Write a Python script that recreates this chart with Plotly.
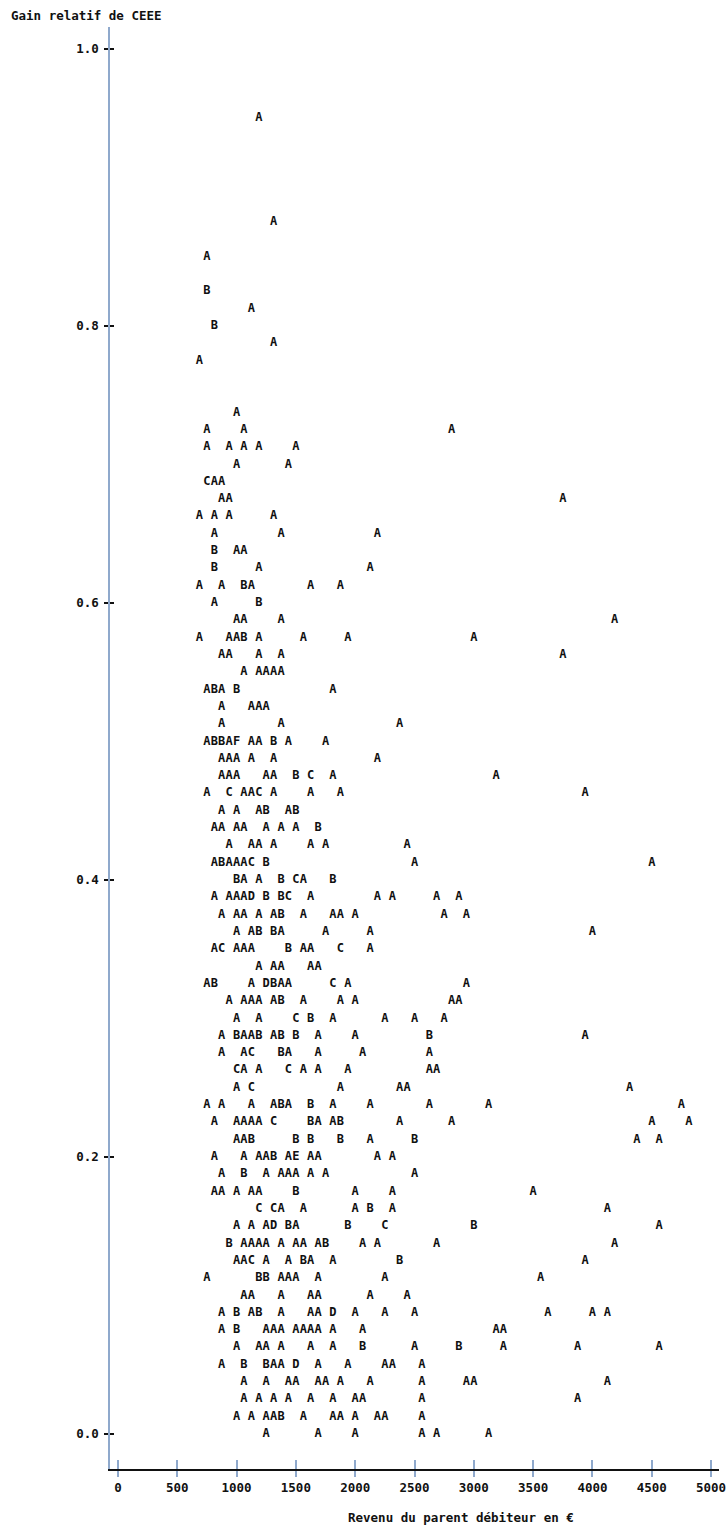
import plotly.graph_objects as go

# ---------------- data ----------------
gain_niveaux = [
    0.95, 0.875, 0.85, 0.825, 0.8125, 0.8, 0.7875, 0.775, 0.7375, 0.725,
    0.7125, 0.7, 0.6875, 0.675, 0.6625, 0.65, 0.6375, 0.625, 0.6125, 0.6,
    0.5875, 0.575, 0.5625, 0.55, 0.5375, 0.525, 0.5125, 0.5, 0.4875, 0.475,
    0.4625, 0.45, 0.4375, 0.425, 0.4125, 0.4, 0.3875, 0.375, 0.3625, 0.35,
    0.3375, 0.325, 0.3125, 0.3, 0.2875, 0.275, 0.2625, 0.25, 0.2375, 0.225,
    0.2125, 0.2, 0.1875, 0.175, 0.1625, 0.15, 0.1375, 0.125, 0.1125, 0.1,
    0.0875, 0.075, 0.0625, 0.05, 0.0375, 0.025, 0.0125, 0.0,
]

revenus_par_niveau = [
    [1187.5],
    [1312.5],
    [750],
    [750],
    [1125],
    [812.5],
    [1312.5],
    [687.5],
    [1000],
    [750, 1062.5, 2812.5],
    [750, 937.5, 1062.5, 1187.5, 1500],
    [1000, 1437.5],
    [750, 812.5, 875],
    [875, 937.5, 3750],
    [687.5, 812.5, 937.5, 1312.5],
    [812.5, 1375, 2187.5],
    [812.5, 1000, 1062.5],
    [812.5, 1187.5, 2125],
    [687.5, 875, 1062.5, 1125, 1625, 1875],
    [812.5, 1187.5],
    [1000, 1062.5, 1375, 4187.5],
    [687.5, 937.5, 1000, 1062.5, 1187.5, 1562.5, 1937.5, 3000],
    [875, 937.5, 1187.5, 1375, 3750],
    [1062.5, 1187.5, 1250, 1312.5, 1375],
    [750, 812.5, 875, 1000, 1812.5],
    [875, 1125, 1187.5, 1250],
    [875, 1375, 2375],
    [750, 812.5, 875, 937.5, 1000, 1125, 1187.5, 1312.5, 1437.5, 1750],
    [875, 937.5, 1000, 1125, 1312.5, 2187.5],
    [875, 937.5, 1000, 1250, 1312.5, 1500, 1625, 1812.5, 3187.5],
    [750, 937.5, 1062.5, 1125, 1187.5, 1312.5, 1625, 1875, 3937.5],
    [875, 1000, 1187.5, 1250, 1437.5, 1500],
    [812.5, 875, 1000, 1062.5, 1250, 1375, 1500, 1687.5],
    [937.5, 1125, 1187.5, 1312.5, 1625, 1750, 2437.5],
    [812.5, 875, 937.5, 1000, 1062.5, 1125, 1250, 2500, 4500],
    [1000, 1062.5, 1187.5, 1375, 1500, 1562.5, 1812.5],
    [812.5, 937.5, 1000, 1062.5, 1125, 1250, 1375, 1437.5, 1625, 2187.5, 2312.5, 2687.5, 2875],
    [875, 1000, 1062.5, 1187.5, 1312.5, 1375, 1562.5, 1812.5, 1875, 2000, 2750, 2937.5],
    [1000, 1125, 1187.5, 1312.5, 1375, 1750, 2125, 4000],
    [812.5, 875, 1000, 1062.5, 1125, 1437.5, 1562.5, 1625, 1875, 2125],
    [1187.5, 1312.5, 1375, 1625, 1687.5],
    [750, 812.5, 1125, 1250, 1312.5, 1375, 1437.5, 1812.5, 1937.5, 2937.5],
    [937.5, 1062.5, 1125, 1187.5, 1312.5, 1375, 1562.5, 1875, 2000, 2812.5, 2875],
    [1000, 1187.5, 1500, 1625, 1812.5, 2250, 2500, 2750],
    [875, 1000, 1062.5, 1125, 1187.5, 1312.5, 1375, 1500, 1687.5, 2000, 2625, 3937.5],
    [875, 1062.5, 1125, 1375, 1437.5, 1687.5, 2062.5, 2625],
    [1000, 1062.5, 1187.5, 1437.5, 1562.5, 1687.5, 1937.5, 2625, 2687.5],
    [1000, 1125, 1875, 2375, 2437.5, 4312.5],
    [750, 875, 1125, 1312.5, 1375, 1437.5, 1625, 1812.5, 2125, 2625, 3125, 4750],
    [812.5, 1000, 1062.5, 1125, 1187.5, 1312.5, 1625, 1687.5, 1812.5, 1875, 2375, 2812.5, 4500, 4812.5],
    [1000, 1062.5, 1125, 1500, 1625, 1875, 2125, 2500, 4375, 4562.5],
    [812.5, 1062.5, 1187.5, 1250, 1312.5, 1437.5, 1500, 1625, 1687.5, 2187.5, 2312.5],
    [875, 1062.5, 1250, 1375, 1437.5, 1500, 1625, 1750, 2500],
    [812.5, 875, 1000, 1125, 1187.5, 1500, 2000, 2312.5, 3500],
    [1187.5, 1312.5, 1375, 1562.5, 2000, 2125, 2312.5, 4125],
    [1000, 1125, 1250, 1312.5, 1437.5, 1500, 1937.5, 2250, 3000, 4562.5],
    [937.5, 1062.5, 1125, 1187.5, 1250, 1375, 1500, 1562.5, 1687.5, 1750, 2062.5, 2187.5, 2687.5, 4187.5],
    [1000, 1062.5, 1125, 1250, 1437.5, 1562.5, 1625, 1812.5, 2375, 3937.5],
    [750, 1187.5, 1250, 1375, 1437.5, 1500, 1687.5, 2250, 3562.5],
    [1062.5, 1125, 1375, 1625, 1687.5, 2125, 2437.5],
    [875, 1000, 1125, 1187.5, 1375, 1625, 1687.5, 1812.5, 2000, 2250, 2500, 3625, 4000, 4125],
    [875, 1000, 1250, 1312.5, 1375, 1500, 1562.5, 1625, 1687.5, 1812.5, 2062.5, 3187.5, 3250],
    [1000, 1187.5, 1250, 1375, 1625, 1812.5, 2062.5, 2500, 2875, 3250, 3875, 4562.5],
    [875, 1062.5, 1250, 1312.5, 1375, 1500, 1687.5, 1937.5, 2250, 2312.5, 2562.5],
    [1062.5, 1250, 1437.5, 1500, 1687.5, 1750, 1875, 2125, 2562.5, 2937.5, 3000, 4125],
    [1062.5, 1187.5, 1312.5, 1437.5, 1625, 1812.5, 2000, 2062.5, 2562.5, 3875],
    [1000, 1125, 1250, 1312.5, 1375, 1562.5, 1812.5, 1875, 2000, 2187.5, 2250, 2562.5],
    [1250, 1687.5, 2000, 2562.5, 2687.5, 3125],
]

lettres_par_niveau = [
    "A", "A", "A", "B", "A", "B", "A", "A", "A", "AAA",
    "AAAAA", "AA", "CAA", "AAA", "AAAA", "AAA", "BAA", "BAA", "AABAAA", "AB",
    "AAAA", "AAABAAAA", "AAAAA", "AAAAA", "ABABA", "AAAA", "AAA", "ABBAFAABAA", "AAAAAA", "AAAAABCAA",
    "ACAACAAAA", "AAABAB", "AAAAAAAB", "AAAAAAA", "ABAAACBAA", "BAABCAB", "AAAADBBCAAAAA", "AAAAABAAAAAA", "AABBAAAA", "ACAAABAACA",
    "AAAAA", "ABADBAACAA", "AAAAABAAAAA", "AACBAAAA", "ABAABABBAABA", "AACBAAAA", "CAACAAAAA", "ACAAAA", "AAAABABAAAAA", "AAAAACBAABAAAA",
    "AABBBBABAA", "AAAABAEAAAA", "ABAAAAAAA", "AAAAABAAA", "CCAAABAA", "AAADBABCBA", "BAAAAAAAABAAAA", "AACAABAABA", "ABBAAAAAA", "AAAAAAA",
    "ABABAAADAAAAAA", "ABAAAAAAAAAAA", "AAAAAABABAAA", "ABBAADAAAAA", "AAAAAAAAAAAA", "AAAAAAAAAA", "AAAABAAAAAAA", "AAAAAA",
]

ticks_revenu = [0, 500, 1000, 1500, 2000, 2500, 3000, 3500, 4000, 4500, 5000]
ticks_gain = [0.0, 0.2, 0.4, 0.6, 0.8, 1.0]

titre_y = "Gain relatif de CEEE"
titre_x = "Revenu du parent débiteur en €"

# ---------------- flatten ----------------
xs, ys, ts = [], [], []
for g, revs, lets in zip(gain_niveaux, revenus_par_niveau, lettres_par_niveau):
    assert len(revs) == len(lets), (g, revs, lets)
    for r, l in zip(revs, lets):
        xs.append(r)
        ys.append(g)
        ts.append(l)

# ---------------- styling ----------------
W, H = 726, 1528
FONT = "DejaVu Sans Mono"
FS = 12
FS_LAB = 12.5
INK = "#111111"
PALE = "#8fa9cc"

fig = go.Figure()
fig.add_trace(go.Scatter(
    x=xs, y=ys, mode="text", text=ts, textposition="middle center",
    textfont=dict(family=FONT, size=FS, color=INK, weight="bold"),
    hoverinfo="skip", showlegend=False,
))
# empty companion trace so the overlay axes (inner half of the ticks) are drawn
fig.add_trace(go.Scatter(x=[None], y=[None], xaxis="x2", yaxis="y2",
                         mode="markers", hoverinfo="skip", showlegend=False))

xr = [-8 / 0.12, (W - 118) / 0.12]
yr = [-35 / 1385, 1407 / 1385]

lab_font = dict(family=FONT, size=FS_LAB, color=INK, weight="bold")

fig.update_layout(
    width=W, height=H,
    margin=dict(l=110, r=0, t=27, b=59),
    paper_bgcolor="white", plot_bgcolor="white",
    font=dict(family=FONT, size=FS, color=INK),
    xaxis=dict(
        range=xr, tickvals=ticks_revenu, ticks="outside", ticklen=6,
        tickcolor=PALE, tickwidth=1.5, showline=True, linecolor=INK, linewidth=2,
        showgrid=False, zeroline=False, ticklabeloverflow="allow",
        tickfont=lab_font,
    ),
    yaxis=dict(
        range=yr, tickvals=ticks_gain, tickformat=".1f", ticks="outside", ticklen=4,
        tickcolor=INK, tickwidth=1.5, showline=True, linecolor=PALE, linewidth=1.5,
        showgrid=False, zeroline=False, ticklabelstandoff=3,
        tickfont=lab_font,
    ),
    xaxis2=dict(range=xr, overlaying="x", anchor="y2", side="bottom",
                tickvals=ticks_revenu, ticks="inside", ticklen=9, tickcolor=PALE,
                tickwidth=1.5, showticklabels=False, showgrid=False,
                zeroline=False, showline=False),
    yaxis2=dict(range=yr, overlaying="y", anchor="x2", side="left",
                tickvals=ticks_gain, ticks="inside", ticklen=4, tickcolor=INK,
                tickwidth=1.5, showticklabels=False, showgrid=False,
                zeroline=False, showline=False),
    annotations=[
        dict(text=titre_y, xref="paper", yref="paper", x=0, y=1,
             xanchor="left", yanchor="middle", xshift=-101, yshift=12,
             showarrow=False, font=lab_font),
        dict(text=titre_x, xref="paper", yref="paper", x=0, y=0,
             xanchor="left", yanchor="middle", xshift=236, yshift=-48,
             showarrow=False, font=lab_font),
    ],
)

fig.write_html(
    "out.html",
    config={"displayModeBar": False},
    post_script="document.body.style.margin='0px';document.body.style.overflow='hidden';",
)
